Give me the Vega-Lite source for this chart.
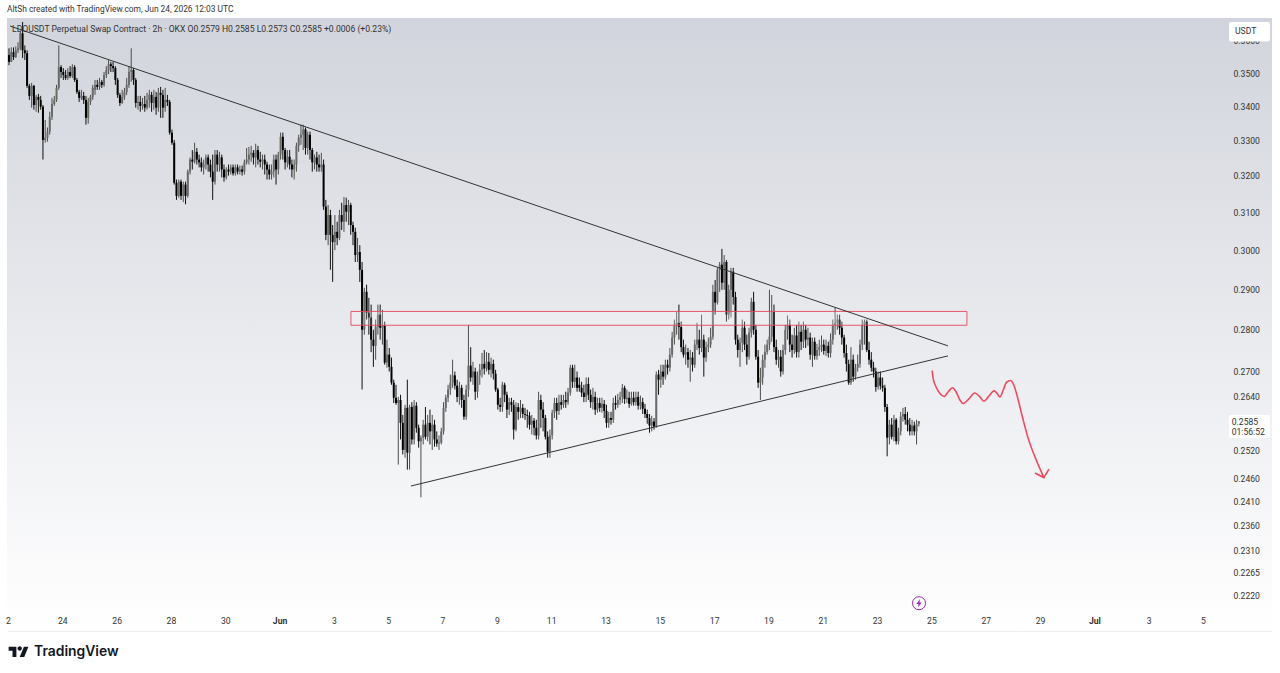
{
  "$schema": "https://vega.github.io/schema/vega-lite/v6.json",
  "width": 1265,
  "height": 613,
  "autosize": {"type": "none"},
  "padding": {"left": 7, "top": 18, "right": 8, "bottom": 42},
  "background": "white",
  "title": {"text": "AltSh created with TradingView.com, Jun 24, 2026 12:03 UTC", "anchor": "start", "frame": "group", "font": "Roboto", "fontSize": 8.4, "fontWeight": "normal", "color": "#333333", "offset": 5},
  "view": {"stroke": null, "fill": {"gradient": "linear", "x1": 0, "y1": 0, "x2": 0, "y2": 1, "stops": [{"offset": 0, "color": "#d1d4dc"}, {"offset": 1, "color": "#ffffff"}]}},
  "datasets": {
    "candles": [
      {"t":"2026-05-22T00:00Z","o":0.3555,"h":0.3576,"l":0.3524,"c":0.3534},
      {"t":"2026-05-22T02:00Z","o":0.3534,"h":0.3579,"l":0.3534,"c":0.3564},
      {"t":"2026-05-22T04:00Z","o":0.3564,"h":0.3579,"l":0.3540,"c":0.3549},
      {"t":"2026-05-22T06:00Z","o":0.3549,"h":0.3582,"l":0.3546,"c":0.3570},
      {"t":"2026-05-22T08:00Z","o":0.3570,"h":0.3595,"l":0.3561,"c":0.3576},
      {"t":"2026-05-22T10:00Z","o":0.3576,"h":0.3630,"l":0.3570,"c":0.3623},
      {"t":"2026-05-22T12:00Z","o":0.3623,"h":0.3659,"l":0.3546,"c":0.3570},
      {"t":"2026-05-22T14:00Z","o":0.3570,"h":0.3585,"l":0.3540,"c":0.3561},
      {"t":"2026-05-22T16:00Z","o":0.3561,"h":0.3570,"l":0.3455,"c":0.3461},
      {"t":"2026-05-22T18:00Z","o":0.3461,"h":0.3467,"l":0.3419,"c":0.3431},
      {"t":"2026-05-22T20:00Z","o":0.3431,"h":0.3470,"l":0.3396,"c":0.3461},
      {"t":"2026-05-22T22:00Z","o":0.3461,"h":0.3464,"l":0.3390,"c":0.3404},
      {"t":"2026-05-23T00:00Z","o":0.3404,"h":0.3434,"l":0.3384,"c":0.3428},
      {"t":"2026-05-23T02:00Z","o":0.3428,"h":0.3437,"l":0.3381,"c":0.3419},
      {"t":"2026-05-23T04:00Z","o":0.3419,"h":0.3431,"l":0.3390,"c":0.3399},
      {"t":"2026-05-23T06:00Z","o":0.3399,"h":0.3404,"l":0.3246,"c":0.3302},
      {"t":"2026-05-23T08:00Z","o":0.3302,"h":0.3360,"l":0.3294,"c":0.3308},
      {"t":"2026-05-23T10:00Z","o":0.3308,"h":0.3338,"l":0.3297,"c":0.3326},
      {"t":"2026-05-23T12:00Z","o":0.3326,"h":0.3384,"l":0.3317,"c":0.3369},
      {"t":"2026-05-23T14:00Z","o":0.3369,"h":0.3425,"l":0.3360,"c":0.3407},
      {"t":"2026-05-23T16:00Z","o":0.3407,"h":0.3431,"l":0.3401,"c":0.3419},
      {"t":"2026-05-23T18:00Z","o":0.3419,"h":0.3464,"l":0.3413,"c":0.3455},
      {"t":"2026-05-23T20:00Z","o":0.3455,"h":0.3585,"l":0.3449,"c":0.3518},
      {"t":"2026-05-23T22:00Z","o":0.3518,"h":0.3524,"l":0.3485,"c":0.3503},
      {"t":"2026-05-24T00:00Z","o":0.3503,"h":0.3515,"l":0.3479,"c":0.3494},
      {"t":"2026-05-24T02:00Z","o":0.3494,"h":0.3509,"l":0.3479,"c":0.3485},
      {"t":"2026-05-24T04:00Z","o":0.3485,"h":0.3515,"l":0.3479,"c":0.3503},
      {"t":"2026-05-24T06:00Z","o":0.3503,"h":0.3521,"l":0.3485,"c":0.3491},
      {"t":"2026-05-24T08:00Z","o":0.3491,"h":0.3527,"l":0.3485,"c":0.3518},
      {"t":"2026-05-24T10:00Z","o":0.3518,"h":0.3524,"l":0.3473,"c":0.3479},
      {"t":"2026-05-24T12:00Z","o":0.3479,"h":0.3485,"l":0.3437,"c":0.3443},
      {"t":"2026-05-24T14:00Z","o":0.3443,"h":0.3449,"l":0.3413,"c":0.3425},
      {"t":"2026-05-24T16:00Z","o":0.3425,"h":0.3449,"l":0.3419,"c":0.3431},
      {"t":"2026-05-24T18:00Z","o":0.3431,"h":0.3443,"l":0.3407,"c":0.3419},
      {"t":"2026-05-24T20:00Z","o":0.3419,"h":0.3431,"l":0.3346,"c":0.3366},
      {"t":"2026-05-24T22:00Z","o":0.3366,"h":0.3425,"l":0.3349,"c":0.3413},
      {"t":"2026-05-25T00:00Z","o":0.3413,"h":0.3434,"l":0.3404,"c":0.3428},
      {"t":"2026-05-25T02:00Z","o":0.3428,"h":0.3464,"l":0.3419,"c":0.3455},
      {"t":"2026-05-25T04:00Z","o":0.3449,"h":0.3479,"l":0.3434,"c":0.3464},
      {"t":"2026-05-25T06:00Z","o":0.3464,"h":0.3479,"l":0.3449,"c":0.3458},
      {"t":"2026-05-25T08:00Z","o":0.3458,"h":0.3485,"l":0.3449,"c":0.3473},
      {"t":"2026-05-25T10:00Z","o":0.3473,"h":0.3479,"l":0.3455,"c":0.3464},
      {"t":"2026-05-25T12:00Z","o":0.3464,"h":0.3503,"l":0.3458,"c":0.3494},
      {"t":"2026-05-25T14:00Z","o":0.3494,"h":0.3521,"l":0.3485,"c":0.3509},
      {"t":"2026-05-25T16:00Z","o":0.3509,"h":0.3540,"l":0.3497,"c":0.3527},
      {"t":"2026-05-25T18:00Z","o":0.3527,"h":0.3534,"l":0.3503,"c":0.3521},
      {"t":"2026-05-25T20:00Z","o":0.3521,"h":0.3534,"l":0.3503,"c":0.3515},
      {"t":"2026-05-25T22:00Z","o":0.3515,"h":0.3521,"l":0.3464,"c":0.3479},
      {"t":"2026-05-26T00:00Z","o":0.3479,"h":0.3485,"l":0.3425,"c":0.3434},
      {"t":"2026-05-26T02:00Z","o":0.3434,"h":0.3440,"l":0.3401,"c":0.3410},
      {"t":"2026-05-26T04:00Z","o":0.3410,"h":0.3449,"l":0.3407,"c":0.3428},
      {"t":"2026-05-26T06:00Z","o":0.3428,"h":0.3455,"l":0.3419,"c":0.3443},
      {"t":"2026-05-26T08:00Z","o":0.3443,"h":0.3485,"l":0.3434,"c":0.3464},
      {"t":"2026-05-26T10:00Z","o":0.3464,"h":0.3521,"l":0.3455,"c":0.3503},
      {"t":"2026-05-26T12:00Z","o":0.3503,"h":0.3576,"l":0.3473,"c":0.3509},
      {"t":"2026-05-26T14:00Z","o":0.3509,"h":0.3515,"l":0.3464,"c":0.3479},
      {"t":"2026-05-26T16:00Z","o":0.3479,"h":0.3485,"l":0.3396,"c":0.3410},
      {"t":"2026-05-26T18:00Z","o":0.3410,"h":0.3431,"l":0.3390,"c":0.3413},
      {"t":"2026-05-26T20:00Z","o":0.3413,"h":0.3431,"l":0.3384,"c":0.3401},
      {"t":"2026-05-26T22:00Z","o":0.3401,"h":0.3425,"l":0.3390,"c":0.3407},
      {"t":"2026-05-27T00:00Z","o":0.3407,"h":0.3431,"l":0.3384,"c":0.3396},
      {"t":"2026-05-27T02:00Z","o":0.3396,"h":0.3440,"l":0.3390,"c":0.3419},
      {"t":"2026-05-27T04:00Z","o":0.3419,"h":0.3449,"l":0.3396,"c":0.3434},
      {"t":"2026-05-27T06:00Z","o":0.3434,"h":0.3443,"l":0.3384,"c":0.3410},
      {"t":"2026-05-27T08:00Z","o":0.3410,"h":0.3449,"l":0.3390,"c":0.3428},
      {"t":"2026-05-27T10:00Z","o":0.3428,"h":0.3443,"l":0.3375,"c":0.3396},
      {"t":"2026-05-27T12:00Z","o":0.3396,"h":0.3455,"l":0.3384,"c":0.3440},
      {"t":"2026-05-27T14:00Z","o":0.3440,"h":0.3458,"l":0.3366,"c":0.3434},
      {"t":"2026-05-27T16:00Z","o":0.3434,"h":0.3449,"l":0.3366,"c":0.3396},
      {"t":"2026-05-27T18:00Z","o":0.3396,"h":0.3455,"l":0.3384,"c":0.3419},
      {"t":"2026-05-27T20:00Z","o":0.3419,"h":0.3434,"l":0.3401,"c":0.3413},
      {"t":"2026-05-27T22:00Z","o":0.3413,"h":0.3419,"l":0.3317,"c":0.3323},
      {"t":"2026-05-28T00:00Z","o":0.3323,"h":0.3332,"l":0.3288,"c":0.3294},
      {"t":"2026-05-28T02:00Z","o":0.3294,"h":0.3302,"l":0.3176,"c":0.3181},
      {"t":"2026-05-28T04:00Z","o":0.3181,"h":0.3190,"l":0.3134,"c":0.3145},
      {"t":"2026-05-28T06:00Z","o":0.3145,"h":0.3190,"l":0.3140,"c":0.3184},
      {"t":"2026-05-28T08:00Z","o":0.3184,"h":0.3190,"l":0.3134,"c":0.3145},
      {"t":"2026-05-28T10:00Z","o":0.3145,"h":0.3184,"l":0.3128,"c":0.3176},
      {"t":"2026-05-28T12:00Z","o":0.3176,"h":0.3184,"l":0.3122,"c":0.3145},
      {"t":"2026-05-28T14:00Z","o":0.3145,"h":0.3218,"l":0.3140,"c":0.3212},
      {"t":"2026-05-28T16:00Z","o":0.3212,"h":0.3252,"l":0.3204,"c":0.3246},
      {"t":"2026-05-28T18:00Z","o":0.3246,"h":0.3273,"l":0.3218,"c":0.3240},
      {"t":"2026-05-28T20:00Z","o":0.3240,"h":0.3294,"l":0.3235,"c":0.3268},
      {"t":"2026-05-28T22:00Z","o":0.3268,"h":0.3279,"l":0.3232,"c":0.3246},
      {"t":"2026-05-29T00:00Z","o":0.3246,"h":0.3260,"l":0.3224,"c":0.3238},
      {"t":"2026-05-29T02:00Z","o":0.3238,"h":0.3252,"l":0.3212,"c":0.3224},
      {"t":"2026-05-29T04:00Z","o":0.3224,"h":0.3246,"l":0.3204,"c":0.3232},
      {"t":"2026-05-29T06:00Z","o":0.3232,"h":0.3260,"l":0.3218,"c":0.3252},
      {"t":"2026-05-29T08:00Z","o":0.3252,"h":0.3260,"l":0.3212,"c":0.3232},
      {"t":"2026-05-29T10:00Z","o":0.3232,"h":0.3246,"l":0.3196,"c":0.3212},
      {"t":"2026-05-29T12:00Z","o":0.3212,"h":0.3260,"l":0.3134,"c":0.3184},
      {"t":"2026-05-29T14:00Z","o":0.3184,"h":0.3273,"l":0.3176,"c":0.3260},
      {"t":"2026-05-29T16:00Z","o":0.3260,"h":0.3273,"l":0.3212,"c":0.3232},
      {"t":"2026-05-29T18:00Z","o":0.3232,"h":0.3268,"l":0.3212,"c":0.3252},
      {"t":"2026-05-29T20:00Z","o":0.3252,"h":0.3260,"l":0.3196,"c":0.3218},
      {"t":"2026-05-29T22:00Z","o":0.3218,"h":0.3232,"l":0.3184,"c":0.3196},
      {"t":"2026-05-30T00:00Z","o":0.3196,"h":0.3224,"l":0.3190,"c":0.3218},
      {"t":"2026-05-30T02:00Z","o":0.3218,"h":0.3232,"l":0.3201,"c":0.3212},
      {"t":"2026-05-30T04:00Z","o":0.3212,"h":0.3232,"l":0.3204,"c":0.3224},
      {"t":"2026-05-30T06:00Z","o":0.3224,"h":0.3232,"l":0.3201,"c":0.3207},
      {"t":"2026-05-30T08:00Z","o":0.3207,"h":0.3232,"l":0.3201,"c":0.3224},
      {"t":"2026-05-30T10:00Z","o":0.3224,"h":0.3232,"l":0.3204,"c":0.3212},
      {"t":"2026-05-30T12:00Z","o":0.3212,"h":0.3229,"l":0.3204,"c":0.3218},
      {"t":"2026-05-30T14:00Z","o":0.3218,"h":0.3229,"l":0.3201,"c":0.3212},
      {"t":"2026-05-30T16:00Z","o":0.3212,"h":0.3246,"l":0.3204,"c":0.3238},
      {"t":"2026-05-30T18:00Z","o":0.3238,"h":0.3279,"l":0.3232,"c":0.3246},
      {"t":"2026-05-30T20:00Z","o":0.3246,"h":0.3282,"l":0.3232,"c":0.3260},
      {"t":"2026-05-30T22:00Z","o":0.3260,"h":0.3285,"l":0.3240,"c":0.3265},
      {"t":"2026-05-31T00:00Z","o":0.3265,"h":0.3273,"l":0.3232,"c":0.3252},
      {"t":"2026-05-31T02:00Z","o":0.3252,"h":0.3291,"l":0.3224,"c":0.3273},
      {"t":"2026-05-31T04:00Z","o":0.3273,"h":0.3285,"l":0.3232,"c":0.3246},
      {"t":"2026-05-31T06:00Z","o":0.3246,"h":0.3268,"l":0.3224,"c":0.3240},
      {"t":"2026-05-31T08:00Z","o":0.3240,"h":0.3260,"l":0.3218,"c":0.3246},
      {"t":"2026-05-31T10:00Z","o":0.3246,"h":0.3260,"l":0.3204,"c":0.3232},
      {"t":"2026-05-31T12:00Z","o":0.3232,"h":0.3240,"l":0.3190,"c":0.3218},
      {"t":"2026-05-31T14:00Z","o":0.3218,"h":0.3232,"l":0.3190,"c":0.3204},
      {"t":"2026-05-31T16:00Z","o":0.3204,"h":0.3232,"l":0.3190,"c":0.3212},
      {"t":"2026-05-31T18:00Z","o":0.3212,"h":0.3260,"l":0.3196,"c":0.3246},
      {"t":"2026-05-31T20:00Z","o":0.3246,"h":0.3260,"l":0.3176,"c":0.3218},
      {"t":"2026-05-31T22:00Z","o":0.3218,"h":0.3268,"l":0.3204,"c":0.3260},
      {"t":"2026-06-01T00:00Z","o":0.3260,"h":0.3323,"l":0.3246,"c":0.3311},
      {"t":"2026-06-01T02:00Z","o":0.3311,"h":0.3323,"l":0.3246,"c":0.3273},
      {"t":"2026-06-01T04:00Z","o":0.3273,"h":0.3279,"l":0.3218,"c":0.3238},
      {"t":"2026-06-01T06:00Z","o":0.3238,"h":0.3273,"l":0.3224,"c":0.3254},
      {"t":"2026-06-01T08:00Z","o":0.3254,"h":0.3273,"l":0.3218,"c":0.3232},
      {"t":"2026-06-01T10:00Z","o":0.3232,"h":0.3246,"l":0.3196,"c":0.3218},
      {"t":"2026-06-01T12:00Z","o":0.3218,"h":0.3246,"l":0.3190,"c":0.3232},
      {"t":"2026-06-01T14:00Z","o":0.3232,"h":0.3294,"l":0.3212,"c":0.3285},
      {"t":"2026-06-01T16:00Z","o":0.3285,"h":0.3317,"l":0.3268,"c":0.3308},
      {"t":"2026-06-01T18:00Z","o":0.3308,"h":0.3346,"l":0.3288,"c":0.3317},
      {"t":"2026-06-01T20:00Z","o":0.3317,"h":0.3346,"l":0.3273,"c":0.3332},
      {"t":"2026-06-01T22:00Z","o":0.3332,"h":0.3338,"l":0.3260,"c":0.3279},
      {"t":"2026-06-02T00:00Z","o":0.3279,"h":0.3326,"l":0.3260,"c":0.3317},
      {"t":"2026-06-02T02:00Z","o":0.3317,"h":0.3326,"l":0.3246,"c":0.3273},
      {"t":"2026-06-02T04:00Z","o":0.3273,"h":0.3279,"l":0.3212,"c":0.3238},
      {"t":"2026-06-02T06:00Z","o":0.3238,"h":0.3260,"l":0.3218,"c":0.3252},
      {"t":"2026-06-02T08:00Z","o":0.3252,"h":0.3268,"l":0.3212,"c":0.3232},
      {"t":"2026-06-02T10:00Z","o":0.3232,"h":0.3260,"l":0.3212,"c":0.3224},
      {"t":"2026-06-02T12:00Z","o":0.3224,"h":0.3265,"l":0.3212,"c":0.3232},
      {"t":"2026-06-02T14:00Z","o":0.3232,"h":0.3246,"l":0.3107,"c":0.3116},
      {"t":"2026-06-02T16:00Z","o":0.3116,"h":0.3134,"l":0.3026,"c":0.3040},
      {"t":"2026-06-02T18:00Z","o":0.3040,"h":0.3120,"l":0.3013,"c":0.3093},
      {"t":"2026-06-02T20:00Z","o":0.3093,"h":0.3107,"l":0.2949,"c":0.3040},
      {"t":"2026-06-02T22:00Z","o":0.3040,"h":0.3066,"l":0.2918,"c":0.3021},
      {"t":"2026-06-03T00:00Z","o":0.3021,"h":0.3093,"l":0.3000,"c":0.3048},
      {"t":"2026-06-03T02:00Z","o":0.3048,"h":0.3075,"l":0.3013,"c":0.3032},
      {"t":"2026-06-03T04:00Z","o":0.3032,"h":0.3107,"l":0.3026,"c":0.3093},
      {"t":"2026-06-03T06:00Z","o":0.3093,"h":0.3126,"l":0.3053,"c":0.3075},
      {"t":"2026-06-03T08:00Z","o":0.3075,"h":0.3142,"l":0.3048,"c":0.3120},
      {"t":"2026-06-03T10:00Z","o":0.3120,"h":0.3140,"l":0.3075,"c":0.3102},
      {"t":"2026-06-03T12:00Z","o":0.3102,"h":0.3134,"l":0.3066,"c":0.3120},
      {"t":"2026-06-03T14:00Z","o":0.3120,"h":0.3126,"l":0.3040,"c":0.3066},
      {"t":"2026-06-03T16:00Z","o":0.3066,"h":0.3075,"l":0.3013,"c":0.3048},
      {"t":"2026-06-03T18:00Z","o":0.3048,"h":0.3059,"l":0.2969,"c":0.2987},
      {"t":"2026-06-03T20:00Z","o":0.2987,"h":0.3032,"l":0.2969,"c":0.2995},
      {"t":"2026-06-03T22:00Z","o":0.2995,"h":0.3013,"l":0.2918,"c":0.2949},
      {"t":"2026-06-04T00:00Z","o":0.2949,"h":0.2969,"l":0.2657,"c":0.2799},
      {"t":"2026-06-04T02:00Z","o":0.2799,"h":0.2903,"l":0.2787,"c":0.2893},
      {"t":"2026-06-04T04:00Z","o":0.2893,"h":0.2911,"l":0.2824,"c":0.2841},
      {"t":"2026-06-04T06:00Z","o":0.2841,"h":0.2878,"l":0.2787,"c":0.2829},
      {"t":"2026-06-04T08:00Z","o":0.2829,"h":0.2861,"l":0.2745,"c":0.2775},
      {"t":"2026-06-04T10:00Z","o":0.2775,"h":0.2799,"l":0.2710,"c":0.2760},
      {"t":"2026-06-04T12:00Z","o":0.2760,"h":0.2824,"l":0.2727,"c":0.2806},
      {"t":"2026-06-04T14:00Z","o":0.2806,"h":0.2861,"l":0.2787,"c":0.2836},
      {"t":"2026-06-04T16:00Z","o":0.2836,"h":0.2861,"l":0.2775,"c":0.2804},
      {"t":"2026-06-04T18:00Z","o":0.2804,"h":0.2848,"l":0.2763,"c":0.2809},
      {"t":"2026-06-04T20:00Z","o":0.2809,"h":0.2819,"l":0.2715,"c":0.2720},
      {"t":"2026-06-04T22:00Z","o":0.2720,"h":0.2775,"l":0.2708,"c":0.2739},
      {"t":"2026-06-05T00:00Z","o":0.2739,"h":0.2755,"l":0.2699,"c":0.2710},
      {"t":"2026-06-05T02:00Z","o":0.2710,"h":0.2732,"l":0.2668,"c":0.2673},
      {"t":"2026-06-05T04:00Z","o":0.2673,"h":0.2680,"l":0.2626,"c":0.2638},
      {"t":"2026-06-05T06:00Z","o":0.2638,"h":0.2668,"l":0.2622,"c":0.2626},
      {"t":"2026-06-05T08:00Z","o":0.2626,"h":0.2640,"l":0.2489,"c":0.2633},
      {"t":"2026-06-05T10:00Z","o":0.2633,"h":0.2645,"l":0.2544,"c":0.2581},
      {"t":"2026-06-05T12:00Z","o":0.2581,"h":0.2599,"l":0.2511,"c":0.2521},
      {"t":"2026-06-05T14:00Z","o":0.2521,"h":0.2622,"l":0.2504,"c":0.2615},
      {"t":"2026-06-05T16:00Z","o":0.2615,"h":0.2680,"l":0.2478,"c":0.2515},
      {"t":"2026-06-05T18:00Z","o":0.2515,"h":0.2622,"l":0.2478,"c":0.2617},
      {"t":"2026-06-05T20:00Z","o":0.2617,"h":0.2628,"l":0.2533,"c":0.2544},
      {"t":"2026-06-05T22:00Z","o":0.2544,"h":0.2633,"l":0.2533,"c":0.2620},
      {"t":"2026-06-06T00:00Z","o":0.2620,"h":0.2628,"l":0.2559,"c":0.2570},
      {"t":"2026-06-06T02:00Z","o":0.2570,"h":0.2577,"l":0.2526,"c":0.2540},
      {"t":"2026-06-06T04:00Z","o":0.2540,"h":0.2553,"l":0.2419,"c":0.2548},
      {"t":"2026-06-06T06:00Z","o":0.2548,"h":0.2588,"l":0.2533,"c":0.2577},
      {"t":"2026-06-06T08:00Z","o":0.2577,"h":0.2617,"l":0.2544,"c":0.2550},
      {"t":"2026-06-06T10:00Z","o":0.2550,"h":0.2599,"l":0.2540,"c":0.2581},
      {"t":"2026-06-06T12:00Z","o":0.2581,"h":0.2611,"l":0.2533,"c":0.2562},
      {"t":"2026-06-06T14:00Z","o":0.2562,"h":0.2599,"l":0.2521,"c":0.2577},
      {"t":"2026-06-06T16:00Z","o":0.2577,"h":0.2588,"l":0.2528,"c":0.2544},
      {"t":"2026-06-06T18:00Z","o":0.2544,"h":0.2562,"l":0.2528,"c":0.2535},
      {"t":"2026-06-06T20:00Z","o":0.2535,"h":0.2553,"l":0.2521,"c":0.2537},
      {"t":"2026-06-06T22:00Z","o":0.2537,"h":0.2570,"l":0.2533,"c":0.2562},
      {"t":"2026-06-07T00:00Z","o":0.2562,"h":0.2628,"l":0.2555,"c":0.2615},
      {"t":"2026-06-07T02:00Z","o":0.2615,"h":0.2645,"l":0.2606,"c":0.2638},
      {"t":"2026-06-07T04:00Z","o":0.2638,"h":0.2668,"l":0.2628,"c":0.2657},
      {"t":"2026-06-07T06:00Z","o":0.2657,"h":0.2692,"l":0.2645,"c":0.2673},
      {"t":"2026-06-07T08:00Z","o":0.2673,"h":0.2727,"l":0.2661,"c":0.2690},
      {"t":"2026-06-07T10:00Z","o":0.2690,"h":0.2699,"l":0.2657,"c":0.2666},
      {"t":"2026-06-07T12:00Z","o":0.2666,"h":0.2680,"l":0.2628,"c":0.2640},
      {"t":"2026-06-07T14:00Z","o":0.2640,"h":0.2675,"l":0.2622,"c":0.2661},
      {"t":"2026-06-07T16:00Z","o":0.2661,"h":0.2668,"l":0.2615,"c":0.2633},
      {"t":"2026-06-07T18:00Z","o":0.2633,"h":0.2645,"l":0.2588,"c":0.2595},
      {"t":"2026-06-07T20:00Z","o":0.2595,"h":0.2668,"l":0.2588,"c":0.2657},
      {"t":"2026-06-07T22:00Z","o":0.2657,"h":0.2811,"l":0.2640,"c":0.2713},
      {"t":"2026-06-08T00:00Z","o":0.2713,"h":0.2757,"l":0.2675,"c":0.2685},
      {"t":"2026-06-08T02:00Z","o":0.2685,"h":0.2722,"l":0.2668,"c":0.2699},
      {"t":"2026-06-08T04:00Z","o":0.2699,"h":0.2708,"l":0.2633,"c":0.2652},
      {"t":"2026-06-08T06:00Z","o":0.2652,"h":0.2699,"l":0.2638,"c":0.2690},
      {"t":"2026-06-08T08:00Z","o":0.2690,"h":0.2717,"l":0.2668,"c":0.2703},
      {"t":"2026-06-08T10:00Z","o":0.2703,"h":0.2743,"l":0.2685,"c":0.2717},
      {"t":"2026-06-08T12:00Z","o":0.2717,"h":0.2750,"l":0.2692,"c":0.2706},
      {"t":"2026-06-08T14:00Z","o":0.2706,"h":0.2745,"l":0.2699,"c":0.2722},
      {"t":"2026-06-08T16:00Z","o":0.2722,"h":0.2743,"l":0.2692,"c":0.2703},
      {"t":"2026-06-08T18:00Z","o":0.2703,"h":0.2732,"l":0.2685,"c":0.2717},
      {"t":"2026-06-08T20:00Z","o":0.2717,"h":0.2727,"l":0.2680,"c":0.2694},
      {"t":"2026-06-08T22:00Z","o":0.2694,"h":0.2703,"l":0.2652,"c":0.2657},
      {"t":"2026-06-09T00:00Z","o":0.2657,"h":0.2661,"l":0.2611,"c":0.2622},
      {"t":"2026-06-09T02:00Z","o":0.2622,"h":0.2638,"l":0.2606,"c":0.2617},
      {"t":"2026-06-09T04:00Z","o":0.2617,"h":0.2675,"l":0.2606,"c":0.2668},
      {"t":"2026-06-09T06:00Z","o":0.2668,"h":0.2673,"l":0.2628,"c":0.2645},
      {"t":"2026-06-09T08:00Z","o":0.2645,"h":0.2652,"l":0.2592,"c":0.2611},
      {"t":"2026-06-09T10:00Z","o":0.2611,"h":0.2638,"l":0.2599,"c":0.2628},
      {"t":"2026-06-09T12:00Z","o":0.2628,"h":0.2638,"l":0.2606,"c":0.2622},
      {"t":"2026-06-09T14:00Z","o":0.2622,"h":0.2633,"l":0.2544,"c":0.2566},
      {"t":"2026-06-09T16:00Z","o":0.2566,"h":0.2628,"l":0.2562,"c":0.2617},
      {"t":"2026-06-09T18:00Z","o":0.2617,"h":0.2626,"l":0.2588,"c":0.2606},
      {"t":"2026-06-09T20:00Z","o":0.2606,"h":0.2633,"l":0.2592,"c":0.2615},
      {"t":"2026-06-09T22:00Z","o":0.2615,"h":0.2624,"l":0.2592,"c":0.2601},
      {"t":"2026-06-10T00:00Z","o":0.2601,"h":0.2615,"l":0.2588,"c":0.2599},
      {"t":"2026-06-10T02:00Z","o":0.2599,"h":0.2611,"l":0.2570,"c":0.2597},
      {"t":"2026-06-10T04:00Z","o":0.2597,"h":0.2606,"l":0.2566,"c":0.2577},
      {"t":"2026-06-10T06:00Z","o":0.2577,"h":0.2599,"l":0.2555,"c":0.2586},
      {"t":"2026-06-10T08:00Z","o":0.2586,"h":0.2592,"l":0.2553,"c":0.2570},
      {"t":"2026-06-10T10:00Z","o":0.2570,"h":0.2588,"l":0.2544,"c":0.2553},
      {"t":"2026-06-10T12:00Z","o":0.2553,"h":0.2652,"l":0.2544,"c":0.2633},
      {"t":"2026-06-10T14:00Z","o":0.2633,"h":0.2645,"l":0.2570,"c":0.2611},
      {"t":"2026-06-10T16:00Z","o":0.2611,"h":0.2628,"l":0.2562,"c":0.2592},
      {"t":"2026-06-10T18:00Z","o":0.2592,"h":0.2599,"l":0.2544,"c":0.2550},
      {"t":"2026-06-10T20:00Z","o":0.2550,"h":0.2562,"l":0.2504,"c":0.2517},
      {"t":"2026-06-10T22:00Z","o":0.2517,"h":0.2566,"l":0.2504,"c":0.2553},
      {"t":"2026-06-11T00:00Z","o":0.2553,"h":0.2611,"l":0.2544,"c":0.2604},
      {"t":"2026-06-11T02:00Z","o":0.2604,"h":0.2638,"l":0.2592,"c":0.2626},
      {"t":"2026-06-11T04:00Z","o":0.2626,"h":0.2638,"l":0.2588,"c":0.2608},
      {"t":"2026-06-11T06:00Z","o":0.2608,"h":0.2645,"l":0.2599,"c":0.2628},
      {"t":"2026-06-11T08:00Z","o":0.2628,"h":0.2645,"l":0.2611,"c":0.2622},
      {"t":"2026-06-11T10:00Z","o":0.2622,"h":0.2645,"l":0.2615,"c":0.2633},
      {"t":"2026-06-11T12:00Z","o":0.2633,"h":0.2652,"l":0.2615,"c":0.2628},
      {"t":"2026-06-11T14:00Z","o":0.2628,"h":0.2661,"l":0.2622,"c":0.2650},
      {"t":"2026-06-11T16:00Z","o":0.2650,"h":0.2715,"l":0.2643,"c":0.2708},
      {"t":"2026-06-11T18:00Z","o":0.2708,"h":0.2715,"l":0.2661,"c":0.2675},
      {"t":"2026-06-11T20:00Z","o":0.2675,"h":0.2715,"l":0.2661,"c":0.2685},
      {"t":"2026-06-11T22:00Z","o":0.2685,"h":0.2699,"l":0.2652,"c":0.2661},
      {"t":"2026-06-12T00:00Z","o":0.2668,"h":0.2685,"l":0.2652,"c":0.2661},
      {"t":"2026-06-12T02:00Z","o":0.2661,"h":0.2675,"l":0.2640,"c":0.2650},
      {"t":"2026-06-12T04:00Z","o":0.2650,"h":0.2668,"l":0.2628,"c":0.2640},
      {"t":"2026-06-12T06:00Z","o":0.2640,"h":0.2685,"l":0.2628,"c":0.2670},
      {"t":"2026-06-12T08:00Z","o":0.2670,"h":0.2685,"l":0.2633,"c":0.2645},
      {"t":"2026-06-12T10:00Z","o":0.2645,"h":0.2657,"l":0.2615,"c":0.2628},
      {"t":"2026-06-12T12:00Z","o":0.2628,"h":0.2661,"l":0.2611,"c":0.2640},
      {"t":"2026-06-12T14:00Z","o":0.2640,"h":0.2652,"l":0.2599,"c":0.2611},
      {"t":"2026-06-12T16:00Z","o":0.2611,"h":0.2638,"l":0.2604,"c":0.2626},
      {"t":"2026-06-12T18:00Z","o":0.2626,"h":0.2638,"l":0.2606,"c":0.2615},
      {"t":"2026-06-12T20:00Z","o":0.2615,"h":0.2638,"l":0.2604,"c":0.2624},
      {"t":"2026-06-12T22:00Z","o":0.2624,"h":0.2633,"l":0.2592,"c":0.2608},
      {"t":"2026-06-13T00:00Z","o":0.2608,"h":0.2622,"l":0.2570,"c":0.2581},
      {"t":"2026-06-13T02:00Z","o":0.2581,"h":0.2606,"l":0.2570,"c":0.2592},
      {"t":"2026-06-13T04:00Z","o":0.2592,"h":0.2606,"l":0.2577,"c":0.2588},
      {"t":"2026-06-13T06:00Z","o":0.2588,"h":0.2638,"l":0.2581,"c":0.2626},
      {"t":"2026-06-13T08:00Z","o":0.2626,"h":0.2643,"l":0.2611,"c":0.2622},
      {"t":"2026-06-13T10:00Z","o":0.2622,"h":0.2647,"l":0.2615,"c":0.2633},
      {"t":"2026-06-13T12:00Z","o":0.2633,"h":0.2652,"l":0.2622,"c":0.2640},
      {"t":"2026-06-13T14:00Z","o":0.2640,"h":0.2670,"l":0.2626,"c":0.2661},
      {"t":"2026-06-13T16:00Z","o":0.2661,"h":0.2666,"l":0.2624,"c":0.2635},
      {"t":"2026-06-13T18:00Z","o":0.2635,"h":0.2657,"l":0.2626,"c":0.2638},
      {"t":"2026-06-13T20:00Z","o":0.2638,"h":0.2652,"l":0.2615,"c":0.2624},
      {"t":"2026-06-13T22:00Z","o":0.2624,"h":0.2652,"l":0.2620,"c":0.2638},
      {"t":"2026-06-14T00:00Z","o":0.2638,"h":0.2652,"l":0.2620,"c":0.2628},
      {"t":"2026-06-14T02:00Z","o":0.2628,"h":0.2652,"l":0.2620,"c":0.2640},
      {"t":"2026-06-14T04:00Z","o":0.2640,"h":0.2652,"l":0.2611,"c":0.2620},
      {"t":"2026-06-14T06:00Z","o":0.2620,"h":0.2643,"l":0.2611,"c":0.2628},
      {"t":"2026-06-14T08:00Z","o":0.2628,"h":0.2638,"l":0.2601,"c":0.2613},
      {"t":"2026-06-14T10:00Z","o":0.2613,"h":0.2624,"l":0.2592,"c":0.2601},
      {"t":"2026-06-14T12:00Z","o":0.2601,"h":0.2611,"l":0.2579,"c":0.2592},
      {"t":"2026-06-14T14:00Z","o":0.2592,"h":0.2601,"l":0.2559,"c":0.2575},
      {"t":"2026-06-14T16:00Z","o":0.2575,"h":0.2597,"l":0.2562,"c":0.2584},
      {"t":"2026-06-14T18:00Z","o":0.2584,"h":0.2592,"l":0.2566,"c":0.2573},
      {"t":"2026-06-14T20:00Z","o":0.2573,"h":0.2699,"l":0.2570,"c":0.2692},
      {"t":"2026-06-14T22:00Z","o":0.2692,"h":0.2703,"l":0.2645,"c":0.2680},
      {"t":"2026-06-15T00:00Z","o":0.2680,"h":0.2715,"l":0.2661,"c":0.2699},
      {"t":"2026-06-15T02:00Z","o":0.2699,"h":0.2715,"l":0.2668,"c":0.2687},
      {"t":"2026-06-15T04:00Z","o":0.2687,"h":0.2727,"l":0.2680,"c":0.2715},
      {"t":"2026-06-15T06:00Z","o":0.2715,"h":0.2727,"l":0.2692,"c":0.2708},
      {"t":"2026-06-15T08:00Z","o":0.2708,"h":0.2755,"l":0.2699,"c":0.2739},
      {"t":"2026-06-15T10:00Z","o":0.2739,"h":0.2794,"l":0.2732,"c":0.2780},
      {"t":"2026-06-15T12:00Z","o":0.2780,"h":0.2824,"l":0.2763,"c":0.2811},
      {"t":"2026-06-15T14:00Z","o":0.2811,"h":0.2843,"l":0.2787,"c":0.2816},
      {"t":"2026-06-15T16:00Z","o":0.2816,"h":0.2861,"l":0.2775,"c":0.2806},
      {"t":"2026-06-15T18:00Z","o":0.2806,"h":0.2819,"l":0.2745,"c":0.2757},
      {"t":"2026-06-15T20:00Z","o":0.2757,"h":0.2775,"l":0.2732,"c":0.2739},
      {"t":"2026-06-15T22:00Z","o":0.2739,"h":0.2763,"l":0.2715,"c":0.2745},
      {"t":"2026-06-16T00:00Z","o":0.2745,"h":0.2755,"l":0.2708,"c":0.2727},
      {"t":"2026-06-16T02:00Z","o":0.2727,"h":0.2750,"l":0.2675,"c":0.2732},
      {"t":"2026-06-16T04:00Z","o":0.2732,"h":0.2745,"l":0.2699,"c":0.2715},
      {"t":"2026-06-16T06:00Z","o":0.2715,"h":0.2775,"l":0.2708,"c":0.2763},
      {"t":"2026-06-16T08:00Z","o":0.2763,"h":0.2816,"l":0.2750,"c":0.2775},
      {"t":"2026-06-16T10:00Z","o":0.2775,"h":0.2799,"l":0.2739,"c":0.2755},
      {"t":"2026-06-16T12:00Z","o":0.2755,"h":0.2836,"l":0.2745,"c":0.2775},
      {"t":"2026-06-16T14:00Z","o":0.2775,"h":0.2787,"l":0.2687,"c":0.2732},
      {"t":"2026-06-16T16:00Z","o":0.2732,"h":0.2770,"l":0.2722,"c":0.2757},
      {"t":"2026-06-16T18:00Z","o":0.2757,"h":0.2780,"l":0.2745,"c":0.2763},
      {"t":"2026-06-16T20:00Z","o":0.2763,"h":0.2804,"l":0.2755,"c":0.2782},
      {"t":"2026-06-16T22:00Z","o":0.2782,"h":0.2911,"l":0.2775,"c":0.2893},
      {"t":"2026-06-17T00:00Z","o":0.2893,"h":0.2923,"l":0.2836,"c":0.2866},
      {"t":"2026-06-17T02:00Z","o":0.2866,"h":0.2954,"l":0.2861,"c":0.2949},
      {"t":"2026-06-17T04:00Z","o":0.2949,"h":0.2969,"l":0.2893,"c":0.2962},
      {"t":"2026-06-17T06:00Z","o":0.2962,"h":0.3003,"l":0.2898,"c":0.2916},
      {"t":"2026-06-17T08:00Z","o":0.2916,"h":0.2987,"l":0.2898,"c":0.2969},
      {"t":"2026-06-17T10:00Z","o":0.2969,"h":0.2974,"l":0.2819,"c":0.2836},
      {"t":"2026-06-17T12:00Z","o":0.2836,"h":0.2911,"l":0.2824,"c":0.2898},
      {"t":"2026-06-17T14:00Z","o":0.2898,"h":0.2954,"l":0.2829,"c":0.2944},
      {"t":"2026-06-17T16:00Z","o":0.2944,"h":0.2954,"l":0.2861,"c":0.2880},
      {"t":"2026-06-17T18:00Z","o":0.2880,"h":0.2893,"l":0.2763,"c":0.2775},
      {"t":"2026-06-17T20:00Z","o":0.2775,"h":0.2787,"l":0.2732,"c":0.2750},
      {"t":"2026-06-17T22:00Z","o":0.2750,"h":0.2780,"l":0.2710,"c":0.2768},
      {"t":"2026-06-18T00:00Z","o":0.2768,"h":0.2824,"l":0.2745,"c":0.2804},
      {"t":"2026-06-18T02:00Z","o":0.2804,"h":0.2819,"l":0.2750,"c":0.2763},
      {"t":"2026-06-18T04:00Z","o":0.2763,"h":0.2787,"l":0.2715,"c":0.2734},
      {"t":"2026-06-18T06:00Z","o":0.2734,"h":0.2804,"l":0.2727,"c":0.2792},
      {"t":"2026-06-18T08:00Z","o":0.2792,"h":0.2878,"l":0.2780,"c":0.2868},
      {"t":"2026-06-18T10:00Z","o":0.2868,"h":0.2893,"l":0.2787,"c":0.2799},
      {"t":"2026-06-18T12:00Z","o":0.2799,"h":0.2811,"l":0.2727,"c":0.2734},
      {"t":"2026-06-18T14:00Z","o":0.2734,"h":0.2750,"l":0.2661,"c":0.2673},
      {"t":"2026-06-18T16:00Z","o":0.2673,"h":0.2708,"l":0.2633,"c":0.2685},
      {"t":"2026-06-18T18:00Z","o":0.2685,"h":0.2739,"l":0.2668,"c":0.2727},
      {"t":"2026-06-18T20:00Z","o":0.2727,"h":0.2763,"l":0.2708,"c":0.2745},
      {"t":"2026-06-18T22:00Z","o":0.2745,"h":0.2775,"l":0.2739,"c":0.2763},
      {"t":"2026-06-19T00:00Z","o":0.2763,"h":0.2898,"l":0.2750,"c":0.2782},
      {"t":"2026-06-19T02:00Z","o":0.2782,"h":0.2885,"l":0.2770,"c":0.2843},
      {"t":"2026-06-19T04:00Z","o":0.2843,"h":0.2861,"l":0.2745,"c":0.2757},
      {"t":"2026-06-19T06:00Z","o":0.2757,"h":0.2775,"l":0.2715,"c":0.2727},
      {"t":"2026-06-19T08:00Z","o":0.2727,"h":0.2750,"l":0.2708,"c":0.2734},
      {"t":"2026-06-19T10:00Z","o":0.2734,"h":0.2750,"l":0.2687,"c":0.2699},
      {"t":"2026-06-19T12:00Z","o":0.2699,"h":0.2763,"l":0.2692,"c":0.2750},
      {"t":"2026-06-19T14:00Z","o":0.2750,"h":0.2811,"l":0.2739,"c":0.2799},
      {"t":"2026-06-19T16:00Z","o":0.2799,"h":0.2834,"l":0.2775,"c":0.2811},
      {"t":"2026-06-19T18:00Z","o":0.2811,"h":0.2824,"l":0.2745,"c":0.2763},
      {"t":"2026-06-19T20:00Z","o":0.2763,"h":0.2787,"l":0.2732,"c":0.2750},
      {"t":"2026-06-19T22:00Z","o":0.2750,"h":0.2804,"l":0.2741,"c":0.2785},
      {"t":"2026-06-20T00:00Z","o":0.2785,"h":0.2811,"l":0.2732,"c":0.2745},
      {"t":"2026-06-20T02:00Z","o":0.2745,"h":0.2819,"l":0.2732,"c":0.2794},
      {"t":"2026-06-20T04:00Z","o":0.2794,"h":0.2811,"l":0.2750,"c":0.2770},
      {"t":"2026-06-20T06:00Z","o":0.2770,"h":0.2819,"l":0.2755,"c":0.2799},
      {"t":"2026-06-20T08:00Z","o":0.2799,"h":0.2811,"l":0.2755,"c":0.2775},
      {"t":"2026-06-20T10:00Z","o":0.2775,"h":0.2804,"l":0.2760,"c":0.2780},
      {"t":"2026-06-20T12:00Z","o":0.2780,"h":0.2792,"l":0.2727,"c":0.2739},
      {"t":"2026-06-20T14:00Z","o":0.2739,"h":0.2780,"l":0.2710,"c":0.2770},
      {"t":"2026-06-20T16:00Z","o":0.2770,"h":0.2780,"l":0.2727,"c":0.2736},
      {"t":"2026-06-20T18:00Z","o":0.2736,"h":0.2765,"l":0.2727,"c":0.2750},
      {"t":"2026-06-20T20:00Z","o":0.2750,"h":0.2775,"l":0.2736,"c":0.2757},
      {"t":"2026-06-20T22:00Z","o":0.2757,"h":0.2785,"l":0.2745,"c":0.2763},
      {"t":"2026-06-21T00:00Z","o":0.2763,"h":0.2775,"l":0.2739,"c":0.2748},
      {"t":"2026-06-21T02:00Z","o":0.2748,"h":0.2775,"l":0.2736,"c":0.2760},
      {"t":"2026-06-21T04:00Z","o":0.2760,"h":0.2770,"l":0.2732,"c":0.2743},
      {"t":"2026-06-21T06:00Z","o":0.2743,"h":0.2790,"l":0.2732,"c":0.2775},
      {"t":"2026-06-21T08:00Z","o":0.2775,"h":0.2824,"l":0.2763,"c":0.2809},
      {"t":"2026-06-21T10:00Z","o":0.2809,"h":0.2853,"l":0.2787,"c":0.2816},
      {"t":"2026-06-21T12:00Z","o":0.2816,"h":0.2836,"l":0.2799,"c":0.2824},
      {"t":"2026-06-21T14:00Z","o":0.2824,"h":0.2836,"l":0.2787,"c":0.2804},
      {"t":"2026-06-21T16:00Z","o":0.2804,"h":0.2819,"l":0.2763,"c":0.2780},
      {"t":"2026-06-21T18:00Z","o":0.2780,"h":0.2787,"l":0.2732,"c":0.2743},
      {"t":"2026-06-21T20:00Z","o":0.2743,"h":0.2763,"l":0.2699,"c":0.2717},
      {"t":"2026-06-21T22:00Z","o":0.2717,"h":0.2727,"l":0.2668,"c":0.2673},
      {"t":"2026-06-22T00:00Z","o":0.2673,"h":0.2757,"l":0.2668,"c":0.2727},
      {"t":"2026-06-22T02:00Z","o":0.2727,"h":0.2739,"l":0.2675,"c":0.2687},
      {"t":"2026-06-22T04:00Z","o":0.2687,"h":0.2717,"l":0.2680,"c":0.2708},
      {"t":"2026-06-22T06:00Z","o":0.2708,"h":0.2739,"l":0.2699,"c":0.2717},
      {"t":"2026-06-22T08:00Z","o":0.2717,"h":0.2775,"l":0.2708,"c":0.2763},
      {"t":"2026-06-22T10:00Z","o":0.2763,"h":0.2824,"l":0.2750,"c":0.2811},
      {"t":"2026-06-22T12:00Z","o":0.2811,"h":0.2824,"l":0.2763,"c":0.2819},
      {"t":"2026-06-22T14:00Z","o":0.2819,"h":0.2824,"l":0.2745,"c":0.2750},
      {"t":"2026-06-22T16:00Z","o":0.2750,"h":0.2770,"l":0.2715,"c":0.2727},
      {"t":"2026-06-22T18:00Z","o":0.2727,"h":0.2745,"l":0.2699,"c":0.2708},
      {"t":"2026-06-22T20:00Z","o":0.2708,"h":0.2722,"l":0.2685,"c":0.2699},
      {"t":"2026-06-22T22:00Z","o":0.2699,"h":0.2708,"l":0.2652,"c":0.2663},
      {"t":"2026-06-23T00:00Z","o":0.2663,"h":0.2699,"l":0.2657,"c":0.2685},
      {"t":"2026-06-23T02:00Z","o":0.2685,"h":0.2699,"l":0.2657,"c":0.2666},
      {"t":"2026-06-23T04:00Z","o":0.2666,"h":0.2685,"l":0.2652,"c":0.2661},
      {"t":"2026-06-23T06:00Z","o":0.2661,"h":0.2668,"l":0.2606,"c":0.2617},
      {"t":"2026-06-23T08:00Z","o":0.2617,"h":0.2624,"l":0.2507,"c":0.2548},
      {"t":"2026-06-23T10:00Z","o":0.2548,"h":0.2588,"l":0.2533,"c":0.2577},
      {"t":"2026-06-23T12:00Z","o":0.2577,"h":0.2592,"l":0.2544,"c":0.2550},
      {"t":"2026-06-23T14:00Z","o":0.2550,"h":0.2599,"l":0.2540,"c":0.2588},
      {"t":"2026-06-23T16:00Z","o":0.2588,"h":0.2592,"l":0.2533,"c":0.2540},
      {"t":"2026-06-23T18:00Z","o":0.2540,"h":0.2570,"l":0.2533,"c":0.2562},
      {"t":"2026-06-23T20:00Z","o":0.2562,"h":0.2606,"l":0.2553,"c":0.2595},
      {"t":"2026-06-23T22:00Z","o":0.2595,"h":0.2615,"l":0.2584,"c":0.2601},
      {"t":"2026-06-24T00:00Z","o":0.2601,"h":0.2617,"l":0.2577,"c":0.2588},
      {"t":"2026-06-24T02:00Z","o":0.2588,"h":0.2606,"l":0.2562,"c":0.2577},
      {"t":"2026-06-24T04:00Z","o":0.2577,"h":0.2592,"l":0.2553,"c":0.2562},
      {"t":"2026-06-24T06:00Z","o":0.2562,"h":0.2588,"l":0.2553,"c":0.2575},
      {"t":"2026-06-24T08:00Z","o":0.2575,"h":0.2584,"l":0.2553,"c":0.2562},
      {"t":"2026-06-24T10:00Z","o":0.2562,"h":0.2588,"l":0.2533,"c":0.2579},
      {"t":"2026-06-24T12:00Z","o":0.2579,"h":0.2585,"l":0.2573,"c":0.2585}
    ]
  },
  "encoding": {
    "x": {"field": "t", "type": "temporal", "title": null,
      "scale": {"type": "utc", "domain": ["2026-05-21T22:14:00Z", "2026-07-07T12:06:00Z"], "padding": 0},
      "axis": {"orient": "bottom", "values": ["2026-05-22T00:00:00Z","2026-05-24T00:00:00Z","2026-05-26T00:00:00Z","2026-05-28T00:00:00Z","2026-05-30T00:00:00Z","2026-06-01T00:00:00Z","2026-06-03T00:00:00Z","2026-06-05T00:00:00Z","2026-06-07T00:00:00Z","2026-06-09T00:00:00Z","2026-06-11T00:00:00Z","2026-06-13T00:00:00Z","2026-06-15T00:00:00Z","2026-06-17T00:00:00Z","2026-06-19T00:00:00Z","2026-06-21T00:00:00Z","2026-06-23T00:00:00Z","2026-06-25T00:00:00Z","2026-06-27T00:00:00Z","2026-06-29T00:00:00Z","2026-07-01T00:00:00Z","2026-07-03T00:00:00Z","2026-07-05T00:00:00Z"],
        "labelExpr": "utcdate(datum.value) == 22 ? '2' : utcdate(datum.value) == 1 ? utcFormat(datum.value, '%b') : utcFormat(datum.value, '%-d')",
        "labelFontWeight": {"condition": {"test": "utcdate(datum.value) == 1", "value": "bold"}, "value": "normal"},
        "labelFont": "Roboto", "labelFontSize": 8.6, "labelColor": "#333333", "labelPadding": -14.5, "labelOffset": -1, "labelOverlap": false, "labelBound": false, "labelFlush": false,
        "ticks": false, "grid": false, "domainColor": "#eceef1"}
    },
    "y": {"field": "p", "type": "quantitative", "title": null,
      "scale": {"type": "log", "domain": [0.21533, 0.36717], "nice": false},
      "axis": {"orient": "right", "values": [0.36,0.35,0.34,0.33,0.32,0.31,0.30,0.29,0.28,0.27,0.264,0.252,0.246,0.241,0.236,0.231,0.2265,0.222],
        "format": ".4f", "labelFont": "Roboto", "labelFontSize": 8.6, "labelColor": "#333333", "labelAlign": "left", "labelPadding": -39, "ticks": false, "domain": false, "grid": false}
    }
  },
  "layer": [
    {"data": {"name": "candles"},
      "mark": {"type": "rule", "strokeWidth": 1},
      "encoding": {"y": {"field": "l", "type": "quantitative"}, "y2": {"field": "h"},
        "color": {"condition": {"test": "datum.c >= datum.o", "value": "#4d4d4d"}, "value": "#111111"}}},
    {"data": {"name": "candles"},
      "mark": {"type": "bar", "size": 2},
      "encoding": {"y": {"field": "o", "type": "quantitative"}, "y2": {"field": "c"},
        "color": {"condition": {"test": "datum.c >= datum.o", "value": "#6a6a6a"}, "value": "#000000"}}},
    {"data": {"values": [{"a": "2026-06-03T14:10:00Z", "b": "2026-06-26T06:30:00Z", "top": 0.2844, "bottom": 0.2810}]},
      "mark": {"type": "rect", "fill": "#ffffff", "fillOpacity": 0.2, "stroke": "#e2465c", "strokeWidth": 0.9},
      "encoding": {"x": {"field": "a", "type": "temporal"}, "x2": {"field": "b"}, "y": {"field": "top", "type": "quantitative"}, "y2": {"field": "bottom"}}},
    {"data": {"values": [
        {"line": "falling", "t": "2026-05-22T01:00:00Z", "p": 0.3646},
        {"line": "falling", "t": "2026-06-25T13:45:00Z", "p": 0.2760},
        {"line": "rising", "t": "2026-06-05T19:12:00Z", "p": 0.2443},
        {"line": "rising", "t": "2026-06-25T13:45:00Z", "p": 0.2736}]},
      "mark": {"type": "line", "stroke": "#333333", "strokeWidth": 1},
      "encoding": {"detail": {"field": "line"}}},
    {"data": {"values": [
        {"t": "2026-06-24T23:50:00Z", "p": 0.2701},{"t": "2026-06-25T00:40:00Z", "p": 0.2683},{"t": "2026-06-25T03:05:00Z", "p": 0.2664},{"t": "2026-06-25T06:40:00Z", "p": 0.2648},{"t": "2026-06-25T10:25:00Z", "p": 0.2641},{"t": "2026-06-25T14:00:00Z", "p": 0.2652},{"t": "2026-06-25T17:50:00Z", "p": 0.2661},{"t": "2026-06-25T20:50:00Z", "p": 0.2652},{"t": "2026-06-26T00:20:00Z", "p": 0.2633},{"t": "2026-06-26T03:10:00Z", "p": 0.2625},{"t": "2026-06-26T07:40:00Z", "p": 0.2634},{"t": "2026-06-26T13:30:00Z", "p": 0.2649},{"t": "2026-06-26T18:00:00Z", "p": 0.2640},{"t": "2026-06-26T21:30:00Z", "p": 0.2630},{"t": "2026-06-27T01:20:00Z", "p": 0.2640},{"t": "2026-06-27T06:35:00Z", "p": 0.2654},{"t": "2026-06-27T09:15:00Z", "p": 0.2648},{"t": "2026-06-27T11:40:00Z", "p": 0.2640},{"t": "2026-06-27T14:35:00Z", "p": 0.2656},{"t": "2026-06-27T17:35:00Z", "p": 0.2674},{"t": "2026-06-27T21:05:00Z", "p": 0.2678},{"t": "2026-06-28T00:00:00Z", "p": 0.2667},{"t": "2026-06-28T03:50:00Z", "p": 0.2633},{"t": "2026-06-28T08:10:00Z", "p": 0.2588},{"t": "2026-06-28T12:35:00Z", "p": 0.2547},{"t": "2026-06-28T18:35:00Z", "p": 0.2506},{"t": "2026-06-29T02:30:00Z", "p": 0.2461}]},
      "mark": {"type": "line", "stroke": "#ef4a5f", "strokeWidth": 1.6, "interpolate": "monotone"},
      "encoding": {}},
    {"data": {"values": [{"t": "2026-06-28T18:35:00Z", "p": 0.2471},{"t": "2026-06-29T02:30:00Z", "p": 0.2461},{"t": "2026-06-29T07:00:00Z", "p": 0.2479}]},
      "mark": {"type": "line", "stroke": "#ef4a5f", "strokeWidth": 1.6},
      "encoding": {}},
    {"data": {"values": [{"a": "2026-07-05T22:07:00Z", "b": "2026-07-07T10:18:00Z", "top": 0.3659, "bottom": 0.3597},{"a": "2026-07-05T22:07:00Z", "b": "2026-07-07T10:18:00Z", "top": 0.2599, "bottom": 0.2547}]},
      "mark": {"type": "rect", "fill": "#ffffff", "cornerRadius": 2},
      "encoding": {"x": {"field": "a", "type": "temporal"}, "x2": {"field": "b"}, "y": {"field": "top", "type": "quantitative"}, "y2": {"field": "bottom"}}},
    {"data": {"values": [{"t": "2026-07-06T03:24:00Z", "p": 0.3630, "label": "USDT"},{"t": "2026-07-06T00:30:00Z", "p": 0.2584, "label": "0.2585"},{"t": "2026-07-06T00:30:00Z", "p": 0.2561, "label": "01:56:52"}]},
      "mark": {"type": "text", "align": "left", "baseline": "middle", "font": "Roboto", "fontSize": 8.6, "color": "#333333"},
      "encoding": {"text": {"field": "label"}}},
    {"data": {"values": [{"t": "2026-05-22T02:39:00Z", "p": 0.3637, "label": "LDOUSDT Perpetual Swap Contract · 2h · OKX  O0.2579  H0.2585  L0.2573  C0.2585  +0.0006 (+0.23%)"}]},
      "mark": {"type": "text", "align": "left", "baseline": "middle", "font": "Roboto", "fontSize": 8.6, "color": "#333333"},
      "encoding": {"text": {"field": "label"}}},
    {"data": {"values": [{"t": "2026-05-22T22:06:00Z", "p": 0.21144, "label": "TradingView"}]},
      "mark": {"type": "text", "align": "left", "baseline": "middle", "font": "Inter", "fontSize": 13.9, "fontWeight": 600, "color": "#131722"},
      "encoding": {"text": {"field": "label"}}},
    {"data": {"values": [{"t": "2026-05-22T08:30:00Z", "p": 0.21144}]},
      "mark": {"type": "point", "filled": true, "size": 4, "strokeWidth": 0, "color": "#131722", "opacity": 1, "shape": "M-2.2 5H-6.1V-1.2H-10V-5.1H-2.2V5zM5.6 5H1.1L5.3 -5.1H9.8L5.6 5zM3.3 -3.4A2.2 2.2 0 1 1 -1.1 -3.4A2.2 2.2 0 1 1 3.3 -3.4z"}},
    {"data": {"values": [{"t": "2026-06-24T12:10:00Z", "p": 0.2206}]},
      "mark": {"type": "point", "shape": "circle", "size": 170, "filled": false, "stroke": "#9c27b0", "strokeWidth": 1, "opacity": 1}},
    {"data": {"values": [{"t": "2026-06-24T12:10:00Z", "p": 0.2206}]},
      "mark": {"type": "point", "filled": true, "size": 4, "strokeWidth": 0, "color": "#9c27b0", "opacity": 1, "shape": "M1 -4.2L-2.6 0.8H-0.4L-1 4.2L2.6 -0.8H0.4z"}}
  ]
}
